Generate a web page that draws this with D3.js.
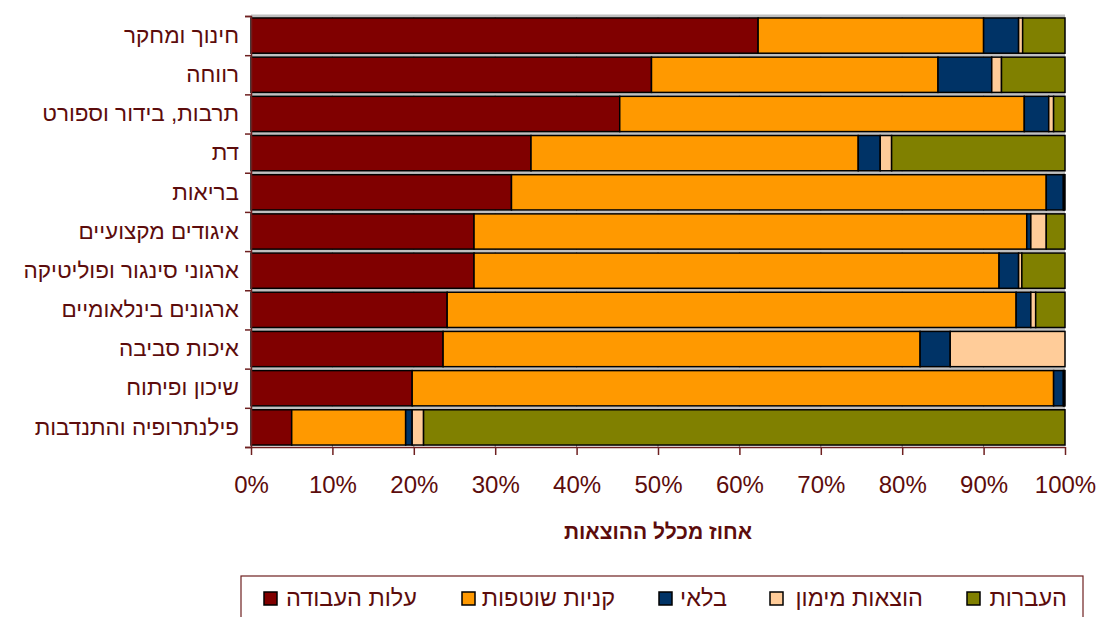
<!DOCTYPE html>
<html>
<head>
<meta charset="utf-8">
<script src="https://cdn.jsdelivr.net/npm/d3@7/dist/d3.min.js"></script>
<style>
  body { margin: 0; background: #fff; }
  svg { display: block; font-family: "Liberation Sans", Arial, sans-serif; }
</style>
</head>
<body>
<div id="chart"></div>
<script>
// categories, top to bottom
var categories = ["חינוך ומחקר", "רווחה", "תרבות, בידור וספורט", "דת", "בריאות",
  "איגודים מקצועיים", "ארגוני סינגור ופוליטיקה", "ארגונים בינלאומיים",
  "איכות סביבה", "שיכון ופיתוח", "פילנתרופיה והתנדבות"];

// series values (% of total expenses)
var laborCost    = [62.3, 49.2, 45.3, 34.4, 32.0, 27.4, 27.4, 24.1, 23.6, 19.8, 5.0];
var purchases    = [27.7, 35.2, 49.7, 40.2, 65.7, 67.9, 64.5, 69.9, 58.6, 78.8, 14.0];
var depreciation = [4.3, 6.6, 3.0, 2.7, 2.1, 0.5, 2.4, 1.8, 3.7, 1.2, 0.8];
var financing    = [0.5, 1.2, 0.6, 1.4, 0.1, 1.9, 0.4, 0.6, 14.1, 0.1, 1.4];
var transfers    = [5.2, 7.8, 1.4, 21.3, 0.1, 2.3, 5.3, 3.6, 0.0, 0.1, 78.8];

var seriesNames = ["עלות העבודה", "קניות שוטפות", "בלאי", "הוצאות מימון", "העברות"];
var xTicks = [0, 0.1, 0.2, 0.3, 0.4, 0.5, 0.6, 0.7, 0.8, 0.9, 1];
var axisTitle = "אחוז מכלל ההוצאות";

var keys = ["labor", "purchases", "depreciation", "financing", "transfers"];
var colors = ["#800000", "#ff9900", "#003366", "#ffcc99", "#808000"];
var textColor = "#5c0c0c";
var axisColor = "#6e2020";

var rows = categories.map(function(c, i) {
  return {
    cat: c,
    labor: laborCost[i] / 100,
    purchases: purchases[i] / 100,
    depreciation: depreciation[i] / 100,
    financing: financing[i] / 100,
    transfers: transfers[i] / 100
  };
});

var width = 1103, height = 617;
var plot = {left: 251, right: 1065, top: 16, bottom: 447};

var svg = d3.select("#chart").append("svg")
    .attr("width", width)
    .attr("height", height);

var x = d3.scaleLinear().domain([0, 1]).range([plot.left, plot.right]);
var y = d3.scaleBand().domain(categories)
    .range([plot.top, plot.bottom])
    .paddingInner(0.1).paddingOuter(0.05);
// boundaries between categories
var yb = d3.scaleLinear().domain([0, categories.length]).range([plot.top, plot.bottom]);

// vertical gridlines
svg.append("g")
  .selectAll("line")
  .data(xTicks.slice(1, -1))
  .join("line")
    .attr("x1", function(d) { return x(d); })
    .attr("x2", function(d) { return x(d); })
    .attr("y1", plot.top)
    .attr("y2", plot.bottom)
    .attr("stroke", "#808080")
    .attr("stroke-width", 1);

// horizontal gridlines at category boundaries
svg.append("g")
  .selectAll("line")
  .data(d3.range(categories.length))
  .join("line")
    .attr("x1", plot.left)
    .attr("x2", plot.right)
    .attr("y1", function(d) { return yb(d); })
    .attr("y2", function(d) { return yb(d); })
    .attr("stroke", "#c0c0c0")
    .attr("stroke-width", 3);

// stacked bars
var stack = d3.stack().keys(keys);
var layers = stack(rows);

svg.append("g")
  .selectAll("g")
  .data(layers)
  .join("g")
    .attr("fill", function(d, i) { return colors[i]; })
  .selectAll("rect")
  .data(function(d) { return d.filter(function(p) { return p[1] - p[0] > 0; }); })
  .join("rect")
    .attr("x", function(d) { return x(d[0]); })
    .attr("y", function(d) { return y(d.data.cat); })
    .attr("width", function(d) { return x(d[1]) - x(d[0]); })
    .attr("height", y.bandwidth())
    .attr("stroke", "#000")
    .attr("stroke-width", 1.5);

// left axis: boundary ticks
var leftTicks = svg.append("g")
    .attr("transform", "translate(" + plot.left + ",0)")
    .call(d3.axisLeft(yb).tickValues(d3.range(categories.length + 1)).tickFormat("").tickSizeOuter(0).tickSize(6));
leftTicks.selectAll("path, line").attr("stroke", axisColor).attr("stroke-width", 1.5);

// category labels
var leftLabels = svg.append("g")
    .attr("transform", "translate(" + plot.left + ",0)")
    .call(d3.axisLeft(y).tickSize(0).tickPadding(12));
leftLabels.select(".domain").remove();
leftLabels.selectAll("text")
    .attr("fill", textColor)
    .style("font-size", "22.5px")
    .style("font-family", "'Liberation Sans', Arial, sans-serif");

// bottom axis
var bottom = svg.append("g")
    .attr("transform", "translate(0," + plot.bottom + ")")
    .call(d3.axisBottom(x).tickValues(xTicks).tickFormat(d3.format(".0%")).tickSize(8).tickSizeOuter(0).tickPadding(21));
bottom.selectAll("path, line").attr("stroke", axisColor).attr("stroke-width", 1.5);
bottom.selectAll("text")
    .attr("fill", textColor)
    .style("font-size", "24px")
    .style("font-family", "'Liberation Sans', Arial, sans-serif");

// axis title
svg.append("text")
    .attr("x", (plot.left + plot.right) / 2)
    .attr("y", 539)
    .attr("text-anchor", "middle")
    .attr("fill", textColor)
    .style("font-size", "21px")
    .style("font-weight", "bold")
    .text(axisTitle);

// legend
var legend = svg.append("g");
legend.append("rect")
    .attr("x", 241)
    .attr("y", 576)
    .attr("width", 1083 - 241)
    .attr("height", 60)
    .attr("fill", "#fff")
    .attr("stroke", axisColor)
    .attr("stroke-width", 1.2);

var swatchX = [264, 462, 659, 770, 967];
var textRight = [417, 615, 727, 923, 1067];

var item = legend.selectAll("g.item")
  .data(seriesNames)
  .join("g")
    .attr("class", "item");
item.append("rect")
    .attr("x", function(d, i) { return swatchX[i]; })
    .attr("y", 592)
    .attr("width", 13)
    .attr("height", 13)
    .attr("fill", function(d, i) { return colors[i]; })
    .attr("stroke", "#000")
    .attr("stroke-width", 1.5);
item.append("text")
    .attr("x", function(d, i) { return textRight[i]; })
    .attr("y", 606)
    .attr("text-anchor", "end")
    .attr("fill", textColor)
    .style("font-size", "23.5px")
    .text(function(d) { return d; });
</script>
</body>
</html>
